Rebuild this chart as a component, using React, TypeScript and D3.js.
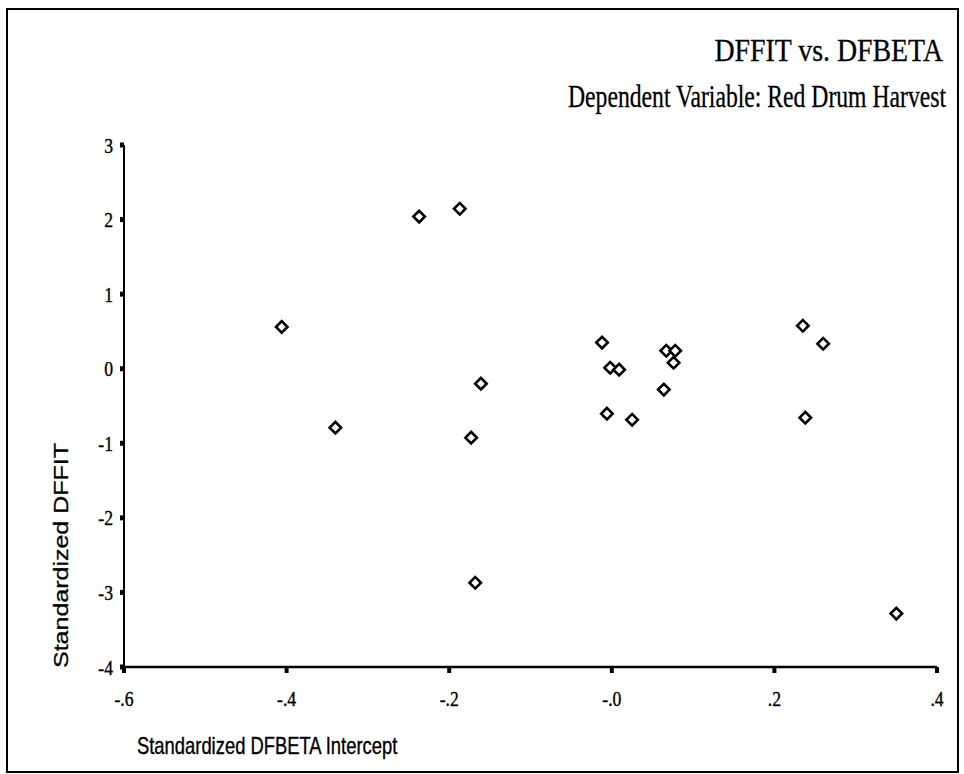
import React from "react";
import * as d3 from "d3";

const dfbetaIntercept = [-0.406, -0.34, -0.237, -0.187, -0.161, -0.173, -0.168, -0.012, -0.002, 0.009, -0.006, 0.025, 0.067, 0.078, 0.076, 0.064, 0.235, 0.26, 0.238, 0.35];
const dffit = [0.56, -0.79, 2.04, 2.145, -0.2, -0.925, -2.87, 0.35, 0.013, -0.013, -0.603, -0.684, 0.241, 0.241, 0.08, -0.28, 0.576, 0.335, -0.657, -3.284];
const xTicks = [-0.6, -0.4, -0.2, 0, 0.2, 0.4];
const xTickLabels = ["-.6", "-.4", "-.2", "-.0", ".2", ".4"];
const yTicks = [3, 2, 1, 0, -1, -2, -3, -4];
const yTickLabels = ["3", "2", "1", "0", "-1", "-2", "-3", "-4"];
const titleLine1 = "DFFIT vs. DFBETA";
const titleLine2 = "Dependent Variable: Red Drum Harvest";
const xTitle = "Standardized DFBETA Intercept";
const yTitle = "Standardized DFFIT";

export default function App() {
  const W = 964, H = 774;
  const x = d3.scaleLinear().domain([-0.6, 0.4]).range([124, 937]);
  const y = d3.scaleLinear().domain([-4, 3]).range([667, 145]);
  const sym = d3.symbol().type(d3.symbolSquare).size(66)();
  const serif = "'Liberation Serif', 'DejaVu Serif', serif";
  const sans = "'Liberation Sans', Arial, sans-serif";
  const sx = 0.8;
  return (
    <svg width={W} height={H} style={{ position: "absolute", left: 0, top: 0, background: "#fff" }}>
      <rect x={7} y={9} width={951} height={763} fill="#fff" stroke="#000" strokeWidth={2} />
      <text fontFamily={serif} fontSize={32} textAnchor="end" stroke="#000" strokeWidth={0.3}
        transform={`translate(943,61) scale(0.87,1)`}>{titleLine1}</text>
      <text fontFamily={serif} fontSize={32} textAnchor="end" stroke="#000" strokeWidth={0.3}
        transform={`translate(946,107) scale(0.74,1)`}>{titleLine2}</text>
      <line x1={x(-0.6)} x2={x(-0.6)} y1={y(3)} y2={y(-4)} stroke="#000" strokeWidth={2} />
      <line x1={x(-0.6)} x2={x(0.4)} y1={y(-4)} y2={y(-4)} stroke="#000" strokeWidth={2.4} />
      {yTicks.map((t, i) => (
        <g key={"y" + i}>
          <rect x={x(-0.6) - 4} y={y(t) - 2.5} width={4} height={5} fill="#000" />
          <text fontFamily={serif} fontSize={22} textAnchor="end" stroke="#000" strokeWidth={0.4}
            transform={`translate(113,${y(t) + 7.5}) scale(${sx},1)`}>{yTickLabels[i]}</text>
        </g>
      ))}
      {xTicks.map((t, i) => (
        <g key={"x" + i}>
          <rect x={x(t) - 2} y={y(-4)} width={4} height={6} fill="#000" />
          <text fontFamily={serif} fontSize={22} textAnchor="middle" stroke="#000" strokeWidth={0.4}
            transform={`translate(${x(t)},706) scale(${sx},1)`}>{xTickLabels[i]}</text>
        </g>
      ))}
      {dfbetaIntercept.map((v, i) => (
        <path key={"p" + i} d={sym} transform={`translate(${x(v)},${y(dffit[i])}) rotate(45)`} fill="#fff" stroke="#000" strokeWidth={2.6} />
      ))}
      <text fontFamily={sans} fontSize={23} stroke="#000" strokeWidth={0.35}
        transform={`translate(137,754) scale(${sx},1)`}>{xTitle}</text>
      <text fontFamily={sans} fontSize={25} stroke="#000" strokeWidth={0.35}
        transform={`translate(68,668) scale(${sx},1) rotate(-90)`}>{yTitle}</text>
    </svg>
  );
}
